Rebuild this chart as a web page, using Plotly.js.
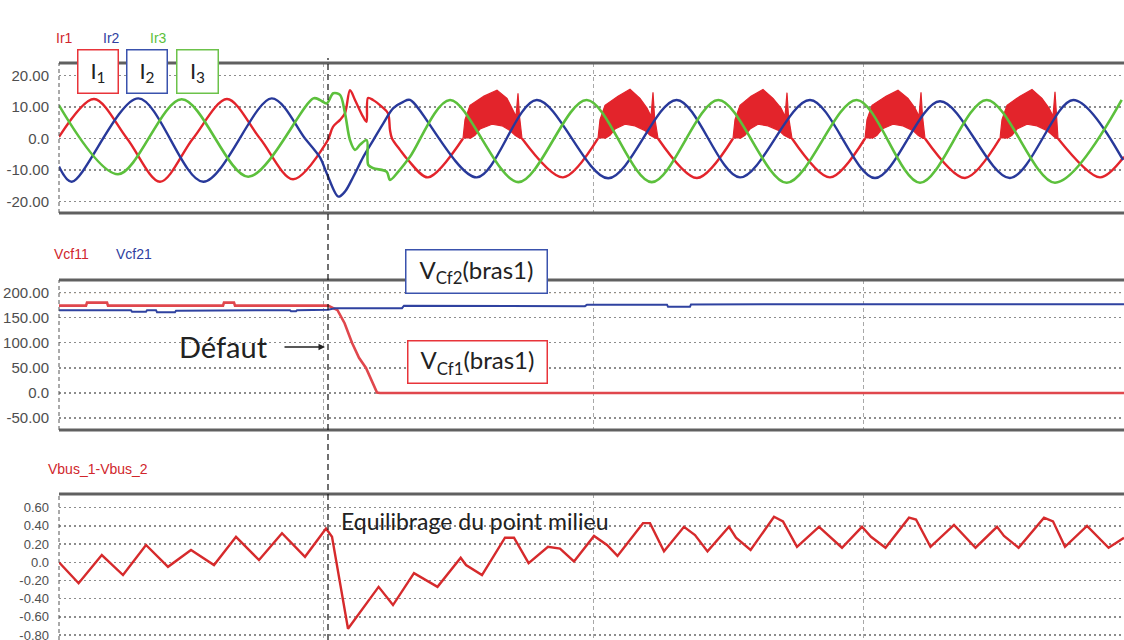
<!DOCTYPE html>
<html><head><meta charset="utf-8">
<script src="https://cdn.plot.ly/plotly-3.0.1.min.js"></script>
<style>html,body{margin:0;padding:0;background:#fff}#chart{width:1124px;height:640px}</style>
</head><body><div id="chart"></div>
<script>
// ---------- DATA (time in sample index) ----------
// Panel 1 : phase currents Ir1, Ir2, Ir3 (A)
const ir1Line = [[0,0.5],[35,12.5],[68,0],[101,-13.7],[134,0],[168,12.5],[201,0],[234,-12.9],[268,-1],
  [274,3.7],[281,5.9],[286,8],[291,15.3],[296,12.2],[304,6.9],[307.5,5.3],[309,12.8],[314,12.2],[323,10],[329,8],[331,2.7],[333,0],[341,-3.6],[349,-6.8],[369,-12.3],[404,0],
  null,[463,0],[504,-12.3],[539,0],
  null,[599,0],[638,-12.5],[674,0],
  null,[733,0],[771,-12.3],[806,0],
  null,[866,0],[906,-12.5],[941,0],
  null,[999,0],[1041,-12.3],[1065,-5.8]];
const ir1Band1 = [[404,0],[406,6],[411,10.5],[425,13.4],[438,15.3],[448,12.7],[453,9.6],[457,7],[459,14.3],[460.5,7],[463,0],[461,0],[456,1],[451,2.5],[443,4],[433,4.5],[421,3],[416,1],[411,0]];
const ir1Band2 = [[539,0],[541,6],[546,10.5],[559,13.4],[571,15.6],[581,12.7],[588,9.6],[592,7],[594,14.6],[595.5,7],[599,0],[597,0],[591,1],[586,2.5],[576,4],[566,4.5],[556,3],[551,1],[546,0]];
const ir1Band3 = [[674,0],[676,6],[681,10.5],[692,13.4],[704,15.5],[714,12.7],[722,9.6],[726,7],[728,14.5],[729.5,7],[733,0],[731,0],[725,1],[720,2.5],[709,4],[699,4.5],[691,3],[686,1],[681,0]];
const ir1Band4 = [[806,0],[808,6],[813,10.5],[827,13.4],[839,15.3],[849,12.7],[856,9.6],[860,7],[862,14.6],[863.5,7],[866,0],[864,0],[859,1],[854,2.5],[844,4],[834,4.5],[823,3],[818,1],[813,0]];
const ir1Band5 = [[941,0],[943,6],[948,10.5],[961,13.4],[973,15.5],[983,12.7],[990,9.6],[994,7],[996,14.8],[997.5,7],[999,0],[997,0],[993,1],[988,2.5],[978,4],[968,4.5],[958,3],[953,1],[948,0]];
const ir2Line = [[0,-8.9],[12.7,-13.7],[79.3,12.7],[144.3,-13.7],[212.7,12.7],[246,0],[261,-6],[267.7,-11],[279.3,-18.4],[286,-16.8],[294.3,-12.1],[304.3,-5.8],[314.3,-0.5],[324.3,4.8],[334.3,9.6],[344.3,11.6],[351,12.2],[417.7,-12.3],[477.7,12.2],[549.3,-12.6],[617.7,12.2],[681,-12.3],[751,12.2],[816,-12.5],[881,11.8],[951,-12.5],[1014.3,12.2],[1064,-6.8]];
const ir3Line = [[0,10.5],[59,-11.3],[122.7,12.4],[189.3,-12.1],[254.3,12.7],[261,12.2],[267.7,11.1],[274.3,14.3],[281,13.8],[286,8],[291,-0.5],[296,-3.6],[301,-2],[307.7,-0.5],[309.3,-8.4],[314.3,-9.4],[327.7,-10.5],[331,-13.1],[339.3,-10.5],[351,-5.8],[391,12.2],[459.3,-13.8],[527.7,12.2],[592.7,-13.8],[659.3,12.2],[727.7,-14],[797.7,12.2],[861,-14],[927.7,12.2],[996,-14],[1062.7,12.2]];
// Panel 2 : flying capacitor voltages (V)
const vcf11 = [[0,174],[27,174],[28,180],[48,180],[49,174],[164,174],[165,180],[175,180],[176,174],[269,174],[278.5,165],[285.6,139],[293,100],[300,70],[307,50],[312,26],[318,1],[321,0],[1065,0]];
const vcf21 = [[0,165],[72,165],[73,162],[87,162],[88,165],[97,165],[98,161],[116,161],[117,164],[128,164],[129,165],[231,165],[232,163],[237,163],[238,165],[269,166],[276,169],[343,169],[345,174],[481,174],[482,173],[526,173],[528,176],[608,176],[609,172],[631,172],[632,176.5],[1065,177]];
// Panel 3 : Vbus_1 - Vbus_2 (V)
const vbus = [[0,0],[19.6,-0.23],[42.8,0.08],[64,-0.14],[87,0.19],[109,-0.05],[132,0.135],[155,-0.03],[177,0.28],[200,0.025],[223,0.32],[246,0.06],[267,0.37],[273,0.28],[289,-0.73],[319.6,-0.27],[334,-0.47],[355,-0.12],[378.5,-0.27],[401.7,0.05],[407,-0.03],[423,-0.14],[446,0.27],[455,0.27],[469.6,-0.01],[489,0.17],[501,0.15],[515,0.01],[535,0.29],[548,0.19],[558.5,0.07],[584,0.43],[591,0.43],[605,0.12],[625,0.39],[636,0.3],[648.5,0.12],[670,0.39],[677,0.27],[691.6,0.135],[715,0.5],[724,0.45],[738,0.17],[760,0.39],[783,0.16],[803,0.39],[812,0.28],[826.5,0.16],[850,0.49],[857,0.47],[871.5,0.17],[895,0.41],[916.5,0.16],[938,0.39],[945,0.29],[959.6,0.16],[985,0.49],[994,0.45],[1006,0.17],[1028,0.4],[1049.6,0.16],[1065,0.27]];
// Tick labels
const irTicks = [20,10,0,-10,-20];
const irTickText = ['20.00','10.00','0.0','-10.00','-20.00'];
const vcfTicks = [200,150,100,50,0,-50];
const vcfTickText = ['200.00','150.00','100.00','50.00','0.0','-50.00'];
const vbusTicks = [0.6,0.4,0.2,0,-0.2,-0.4,-0.6,-0.8];
const vbusTickText = ['0.60','0.40','0.20','0.0','-0.20','-0.40','-0.60','-0.80'];
const timeGrid = [264,534,804];
const faultTime = 269;

// ---------- helpers ----------
const X0 = 59, W = 1065, H = 640;
const px = x => (x - X0) / W;
const py = y => 1 - y / H;
const xs = arr => arr.map(p => p === null ? null : p[0]);
const ys = arr => arr.map(p => p === null ? null : p[1]);

const RED = '#e3242b', BLUE = '#28399a', GREEN = '#5cc03c';
const NARROW = '"Liberation Sans Narrow","Arial Narrow","Liberation Sans",sans-serif';
const SANS = 'Lato,"Open Sans","Noto Sans",sans-serif';

function line(arr, color, width, xa, ya, shape) {
  return {type:'scatter', mode:'lines', x:xs(arr), y:ys(arr), xaxis:xa, yaxis:ya,
    line:{color:color, width:width, shape:shape || 'linear', smoothing:0.9}, hoverinfo:'skip', connectgaps:false};
}
function band(arr) {
  return {type:'scatter', mode:'lines', x:xs(arr), y:ys(arr), xaxis:'x', yaxis:'y', fill:'toself',
    fillcolor:RED, line:{color:RED, width:1.2}, hoverinfo:'skip'};
}

const traces = [
  line(ir1Line, RED, 2.4, 'x', 'y', 'spline'),
  band(ir1Band1), band(ir1Band2), band(ir1Band3), band(ir1Band4), band(ir1Band5),
  line(ir2Line, BLUE, 2.4, 'x', 'y', 'spline'),
  line(ir3Line, GREEN, 2.6, 'x', 'y', 'spline'),
  line(vcf11, '#e0474d', 2.6, 'x2', 'y2'),
  line(vcf21, '#2f42a0', 2, 'x2', 'y2'),
  line(vbus, '#d62a2c', 2.4, 'x3', 'y3')
];

const xcommon = {range:[0,1065], showticklabels:false, ticks:'', tickvals:timeGrid, showgrid:true,
  gridcolor:'#a8a8a8', griddash:'4px,3px', gridwidth:1, zeroline:false, showline:false, fixedrange:true};
const ycommon = {showgrid:true, gridcolor:'#8c8c8c', griddash:'2px,3px', gridwidth:1.3, zeroline:false,
  showline:false, ticks:'', ticklabelstandoff:9, automargin:false, fixedrange:true, ticklabeloverflow:'allow',
  tickfont:{family:NARROW, size:15, color:'#4e4e4e'}};

const layout = {
  width:1124, height:640, margin:{l:59, r:0, t:0, b:0},
  paper_bgcolor:'#ffffff', plot_bgcolor:'#ffffff', showlegend:false,
  xaxis: Object.assign({anchor:'y'}, xcommon),
  xaxis2: Object.assign({anchor:'y2'}, xcommon),
  xaxis3: Object.assign({anchor:'y3'}, xcommon),
  yaxis: Object.assign({}, ycommon, {anchor:'x', domain:[py(213), py(63)], range:[-23.58, 23.89], tickvals:irTicks, ticktext:irTickText}),
  yaxis2: Object.assign({}, ycommon, {anchor:'x2', domain:[py(430), py(280)], range:[-73.7, 225.1], tickvals:vcfTicks, ticktext:vcfTickText}),
  yaxis3: Object.assign({}, ycommon, {anchor:'x3', domain:[0, py(494)], range:[-0.854, 0.7505], tickvals:vbusTicks, ticktext:vbusTickText,
    tickfont:{family:NARROW, size:13, color:'#4e4e4e'}}),
  shapes: [],
  annotations: []
};

// panel frames (thick top/bottom bars) and dashed left borders
[63, 213, 280, 430, 494].forEach(y => layout.shapes.push({type:'line', xref:'paper', yref:'paper',
  x0:0, x1:1, y0:py(y), y1:py(y), line:{color:'#606060', width:3}}));
[[63,213],[280,430],[494,640]].forEach(p => layout.shapes.push({type:'line', xref:'paper', yref:'paper',
  x0:0, x1:0, y0:py(p[1]), y1:py(p[0]), line:{color:'#555', width:1, dash:'4px,3px'}}));
// brownish dotted reference line at 200 V
layout.shapes.push({type:'line', xref:'paper', yref:'y2', x0:0, x1:1, y0:200, y1:200,
  line:{color:'#c4a070', width:1.3, dash:'2px,3px'}, layer:'below'});
// fault marker
layout.shapes.push({type:'line', xref:'x', yref:'paper', x0:faultTime, x1:faultTime, y0:0, y1:py(58),
  line:{color:'#111', width:1.2, dash:'6px,4px'}, layer:'above'});

function lab(text, x, y, color, size, family, extra) {
  return Object.assign({xref:'paper', yref:'paper', x:px(x), y:py(y), text:text, showarrow:false,
    xanchor:'center', yanchor:'middle', font:{family:family || NARROW, size:size, color:color}}, extra || {});
}
layout.annotations.push(
  lab('Ir1', 64, 38, '#d0262c', 14),
  lab('Ir2', 111, 38, '#3040a0', 14),
  lab('Ir3', 158, 38, '#5cbf3c', 14),
  lab('Vcf11', 71, 254, '#d0262c', 14),
  lab('Vcf21', 134, 254, '#3040a0', 14),
  lab('Vbus_1-Vbus_2', 98, 469, '#d0262c', 14),
  lab('I<sub>1</sub>', 97.5, 71, '#222', 22, SANS, {bgcolor:'#fff', bordercolor:'#e8343a', borderwidth:1.5, borderpad:0, width:39, height:42}),
  lab('I<sub>2</sub>', 147, 71, '#222', 22, SANS, {bgcolor:'#fff', bordercolor:'#3a52ad', borderwidth:1.5, borderpad:0, width:39, height:42}),
  lab('I<sub>3</sub>', 197, 71, '#222', 22, SANS, {bgcolor:'#fff', bordercolor:'#6cc24a', borderwidth:1.5, borderpad:0, width:40, height:42}),
  lab('V<sub>Cf2</sub>(bras1)', 476, 271, '#222', 24, SANS, {bgcolor:'#fff', bordercolor:'#3a52ad', borderwidth:1.5, borderpad:0, width:140, height:42}),
  lab('V<sub>Cf1</sub>(bras1)', 477, 361.5, '#222', 24, SANS, {bgcolor:'#fff', bordercolor:'#e8343a', borderwidth:1.5, borderpad:0, width:138, height:41}),
  lab('Défaut', 223, 346, '#222', 29, SANS),
  lab('Equilibrage du point milieu', 339, 521, '#222', 23, SANS, {xanchor:'left'}),
  {xref:'paper', yref:'paper', x:px(325), y:py(347), ax:-42, ay:0, text:'', showarrow:true,
   arrowhead:2, arrowsize:1, arrowwidth:1.3, arrowcolor:'#222'}
);

Plotly.newPlot('chart', traces, layout, {displayModeBar:false, staticPlot:true});
</script>
</body></html>
